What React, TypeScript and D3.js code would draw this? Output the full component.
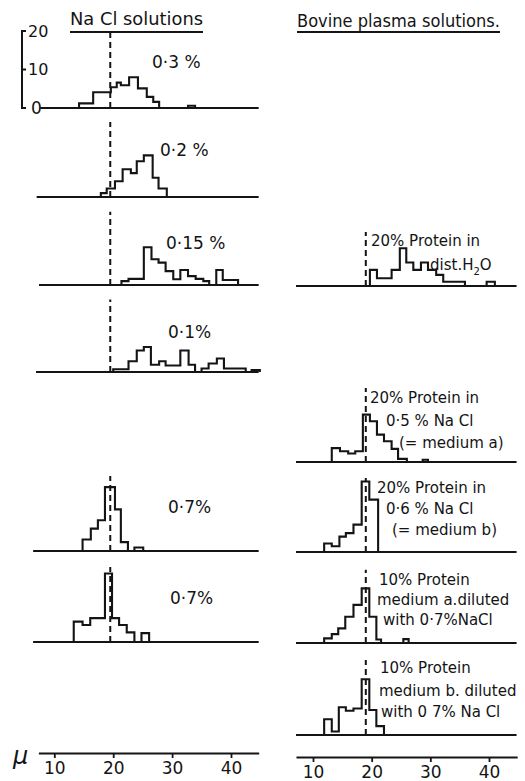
import React, { useRef, useEffect } from 'react';
import * as d3 from 'd3';

// bin edges in µ and bin heights (number of cells)
const nacl03Edges = [14.2, 16.6, 19.6, 20.6, 21.3, 22.7, 24.2, 25.7, 26.8, 27.8, 32.7, 33.9];
const nacl03Counts = [1.2, 4.1, 5.4, 6.6, 5.9, 8.0, 5.1, 2.9, 1.6, 0, 0.6];

const nacl02Edges = [17.9, 18.9, 20.3, 21.6, 23.0, 24.0, 25.2, 26.7, 27.7, 29.1];
const nacl02Counts = [1.0, 2.2, 4.1, 7.2, 6.2, 9.3, 10.8, 5.0, 2.2];

const nacl015Edges = [21.4, 22.6, 25.2, 26.5, 27.7, 28.9, 30.2, 31.4, 32.7, 34.0, 35.3, 36.3, 37.5, 38.6, 41.2];
const nacl015Counts = [1.0, 1.6, 9.8, 6.7, 5.8, 3.6, 1.5, 3.9, 2.3, 1.6, 1.0, 0, 3.9, 1.3];

const nacl01Edges = [20.0, 22.6, 24.0, 25.2, 26.4, 27.8, 28.9, 31.4, 32.8, 33.9, 35.0, 36.2, 37.6, 38.8, 42.5, 43.5, 44.9];
const nacl01Counts = [0.7, 2.8, 5.6, 6.5, 1.9, 2.8, 1.7, 5.6, 1.9, 0, 0.9, 2.2, 3.5, 0.9, 0, 0.5];

const nacl07aEdges = [14.8, 16.2, 17.4, 18.6, 20.3, 21.3, 22.5, 23.6, 25.1];
const nacl07aCounts = [3.0, 5.8, 8.0, 16.6, 10.8, 2.3, 0, 0.9];

const nacl07bEdges = [13.3, 14.8, 16.1, 18.6, 19.8, 21.0, 22.3, 23.6, 24.8, 26.1];
const nacl07bCounts = [5.3, 4.4, 6.2, 17.8, 6.2, 4.4, 2.5, 0, 2.3];

const h2oEdges = [19.7, 20.9, 23.4, 24.8, 25.9, 27.1, 28.4, 29.6, 31.0, 32.2, 35.9, 39.6, 41.0];
const h2oCounts = [4.2, 2.0, 4.2, 9.8, 6.1, 4.2, 6.1, 4.2, 2.9, 1.1, 0, 1.1];

const medAEdges = [13.2, 14.6, 16.0, 17.2, 18.5, 19.7, 20.9, 22.1, 23.4, 24.5, 26.0, 28.7, 29.6];
const medACounts = [3.6, 2.8, 2.2, 2.8, 12.3, 10.6, 7.1, 5.4, 3.4, 0.8, 0, 0.6];

const medBEdges = [11.9, 13.2, 14.5, 15.6, 16.9, 18.3, 19.6, 21.1];
const medBCounts = [2.2, 1.5, 4.0, 4.9, 7.1, 18.3, 13.6];

const dilAEdges = [11.9, 13.2, 14.3, 15.5, 16.9, 18.3, 19.6, 20.8, 21.6, 25.4, 26.3];
const dilACounts = [1.2, 2.3, 3.8, 6.8, 9.9, 14.2, 6.8, 0.9, 0, 1.0];

const dilBEdges = [11.9, 13.2, 14.4, 15.6, 16.9, 18.3, 19.6, 20.8, 22.1];
const dilBCounts = [4.1, 0.9, 7.2, 6.3, 6.9, 14.5, 6.5, 2.3];

const tickValues = [10, 20, 30, 40];

const FONT = "'DejaVu Sans', sans-serif";

export default function App() {
  const svgRef = useRef<SVGSVGElement>(null);

  useEffect(() => {
    if (!svgRef.current) return;
    const svg = d3.select(svgRef.current);
    svg.selectAll('*').remove();

    const ink = '#141414';
    const xLeft = d3.scaleLinear().domain([10, 40]).range([54.3, 231]);
    const xRight = d3.scaleLinear().domain([10, 40]).range([313, 489]);
    // cell count -> pixels above a baseline
    const h = d3.scaleLinear().domain([0, 20]).range([0, 77]);

    const leftPanels = [
      { edges: nacl03Edges, counts: nacl03Counts, base: 108, from: 7.6, dash: 19.5, lines: ['0·3 %'], lx: 152, ly: 62 },
      { edges: nacl02Edges, counts: nacl02Counts, base: 197, from: 7.0, dash: 19.5, lines: ['0·2 %'], lx: 160, ly: 150 },
      { edges: nacl015Edges, counts: nacl015Counts, base: 285, from: 7.4, dash: 19.0, lines: ['0·15 %'], lx: 166, ly: 243 },
      { edges: nacl01Edges, counts: nacl01Counts, base: 372, from: 6.9, dash: 18.8, lines: ['0·1%'], lx: 168, ly: 332 },
      { edges: nacl07aEdges, counts: nacl07aCounts, base: 551, from: 6.4, dash: 19.5, lines: ['0·7%'], lx: 168, ly: 507 },
      { edges: nacl07bEdges, counts: nacl07bCounts, base: 642, from: 6.4, dash: 19.5, lines: ['0·7%'], lx: 170, ly: 598 },
    ];

    const rightPanels = [
      { edges: h2oEdges, counts: h2oCounts, base: 286, dash: 14, lines: ['20% Protein in', 'dist.H₂O'], lx: [371, 430], ly: [241, 265] },
      { edges: medAEdges, counts: medACounts, base: 462, dash: 19.2, lines: ['20% Protein in', '0·5 % Na Cl', '(= medium a)'], lx: [370, 386, 399], ly: [398, 421, 443] },
      { edges: medBEdges, counts: medBCounts, base: 552, dash: 19.2, lines: ['20% Protein in', '0·6 % Na Cl', '(= medium b)'], lx: [377, 386, 392], ly: [488, 509, 530] },
      { edges: dilAEdges, counts: dilACounts, base: 643, dash: 19, lines: ['10% Protein', 'medium a.diluted', 'with 0·7%NaCl'], lx: [379, 377, 383], ly: [580, 600, 620] },
      { edges: dilBEdges, counts: dilBCounts, base: 735, dash: 19.5, lines: ['10% Protein', 'medium b. diluted', 'with 0 7% Na Cl'], lx: [380, 379, 381], ly: [668, 691, 712] },
    ];

    const step = (x: d3.ScaleLinear<number, number>, base: number) =>
      d3.line<[number, number]>()
        .x(d => x(d[0]))
        .y(d => base - h(d[1]))
        .curve(d3.curveStepAfter);

    const histPoints = (edges: number[], counts: number[]): [number, number][] => {
      const pts: [number, number][] = [[edges[0], 0]];
      counts.forEach((c, i) => pts.push([edges[i], c]));
      pts.push([edges[edges.length - 1], 0]);
      return pts;
    };

    const drawPanel = (x: d3.ScaleLinear<number, number>, p: any, lo: number, hi: number, dashX: number) => {
      const g = svg.append('g');
      g.append('line')
        .attr('x1', x(lo)).attr('x2', x(hi))
        .attr('y1', p.base).attr('y2', p.base)
        .attr('stroke', ink).attr('stroke-width', 2.2);
      g.append('path')
        .attr('d', step(x, p.base)(histPoints(p.edges, p.counts)))
        .attr('fill', 'none').attr('stroke', ink).attr('stroke-width', 2.1)
        .attr('stroke-linejoin', 'miter');
      g.append('line')
        .attr('x1', x(dashX)).attr('x2', x(dashX))
        .attr('y1', p.base).attr('y2', p.base - h(p.dash))
        .attr('stroke', ink).attr('stroke-width', 2)
        .attr('stroke-dasharray', '6 4');
    };

    leftPanels.forEach(p => drawPanel(xLeft, p, p.from, 44.7, 19.5));
    rightPanels.forEach(p => drawPanel(xRight, p, 7.1, 44.7, 19));

    // labels
    leftPanels.forEach(p => {
      svg.append('text')
        .attr('x', p.lx).attr('y', p.ly)
        .attr('dy', '0.35em')
        .attr('font-family', FONT).attr('font-size', 17)
        .attr('fill', ink)
        .text(p.lines[0]);
    });
    rightPanels.forEach(p => {
      p.lines.forEach((t, i) => {
        const txt = svg.append('text')
          .attr('x', p.lx[i]).attr('y', p.ly[i])
          .attr('dy', '0.35em')
          .attr('font-family', FONT).attr('font-size', 15)
          .attr('fill', ink);
        if (t.includes('₂')) {
          txt.append('tspan').text('dist.H');
          txt.append('tspan').attr('font-size', 10).attr('dy', 5).text('2');
          txt.append('tspan').attr('dy', -5).text('O');
        } else {
          txt.text(t);
        }
      });
    });

    // headings
    const headings = [
      { text: 'Na Cl solutions', x: 70, x2: 203, y: 19 },
      { text: 'Bovine plasma solutions.', x: 297, x2: 500, y: 21 },
    ];
    headings.forEach(hd => {
      svg.append('text')
        .attr('x', hd.x).attr('y', hd.y)
        .attr('dy', '0.35em')
        .attr('font-family', FONT).attr('font-size', 17)
        .attr('textLength', hd.x2 - hd.x)
        .attr('lengthAdjust', 'spacingAndGlyphs')
        .attr('fill', ink)
        .text(hd.text);
      svg.append('line')
        .attr('x1', hd.x).attr('x2', hd.x2)
        .attr('y1', 32).attr('y2', 32)
        .attr('stroke', ink).attr('stroke-width', 2.2);
    });

    // count scale bar
    const barX = 22;
    const base0 = leftPanels[0].base;
    svg.append('path')
      .attr('d', `M${barX + 4},${base0 - h(20)}H${barX}V${base0}H${barX + 4}`)
      .attr('fill', 'none').attr('stroke', ink).attr('stroke-width', 2);
    svg.append('line')
      .attr('x1', barX).attr('x2', barX + 4)
      .attr('y1', base0 - h(10)).attr('y2', base0 - h(10))
      .attr('stroke', ink).attr('stroke-width', 2);
    [20, 10, 0].forEach(v => {
      svg.append('text')
        .attr('x', v === 0 ? 31 : 28).attr('y', base0 - h(v))
        .attr('dy', '0.35em')
        .attr('font-family', FONT).attr('font-size', v === 0 ? 17 : 16)
        .attr('fill', ink)
        .text(v);
    });

    // bottom axes
    const axes = [
      { x: xLeft, y: 753, lo: 7.3, hi: 44.7 },
      { x: xRight, y: 757, lo: 7.1, hi: 44.8 },
    ];
    axes.forEach(a => {
      const sc = a.x.copy().domain([a.lo, a.hi]).range([a.x(a.lo), a.x(a.hi)]);
      const ax = svg.append('g')
        .attr('transform', `translate(0,${a.y})`)
        .call(d3.axisBottom(sc).tickValues(tickValues).tickSize(5).tickSizeOuter(0).tickPadding(4));
      ax.select('.domain').attr('stroke', ink).attr('stroke-width', 2.2);
      ax.selectAll('.tick line').attr('stroke', ink).attr('stroke-width', 1.8);
      ax.selectAll('.tick text')
        .attr('font-family', FONT).attr('font-size', 17).attr('fill', ink);
    });

    svg.append('text')
      .attr('x', 13).attr('y', 756)
      .attr('dy', '0.35em')
      .attr('font-family', FONT).attr('font-size', 24)
      .attr('font-style', 'italic')
      .attr('fill', ink)
      .text('μ');
  }, []);

  return (
    <svg
      ref={svgRef}
      width={525}
      height={781}
      style={{ position: 'absolute', left: 0, top: 0, background: '#fff' }}
    />
  );
}
